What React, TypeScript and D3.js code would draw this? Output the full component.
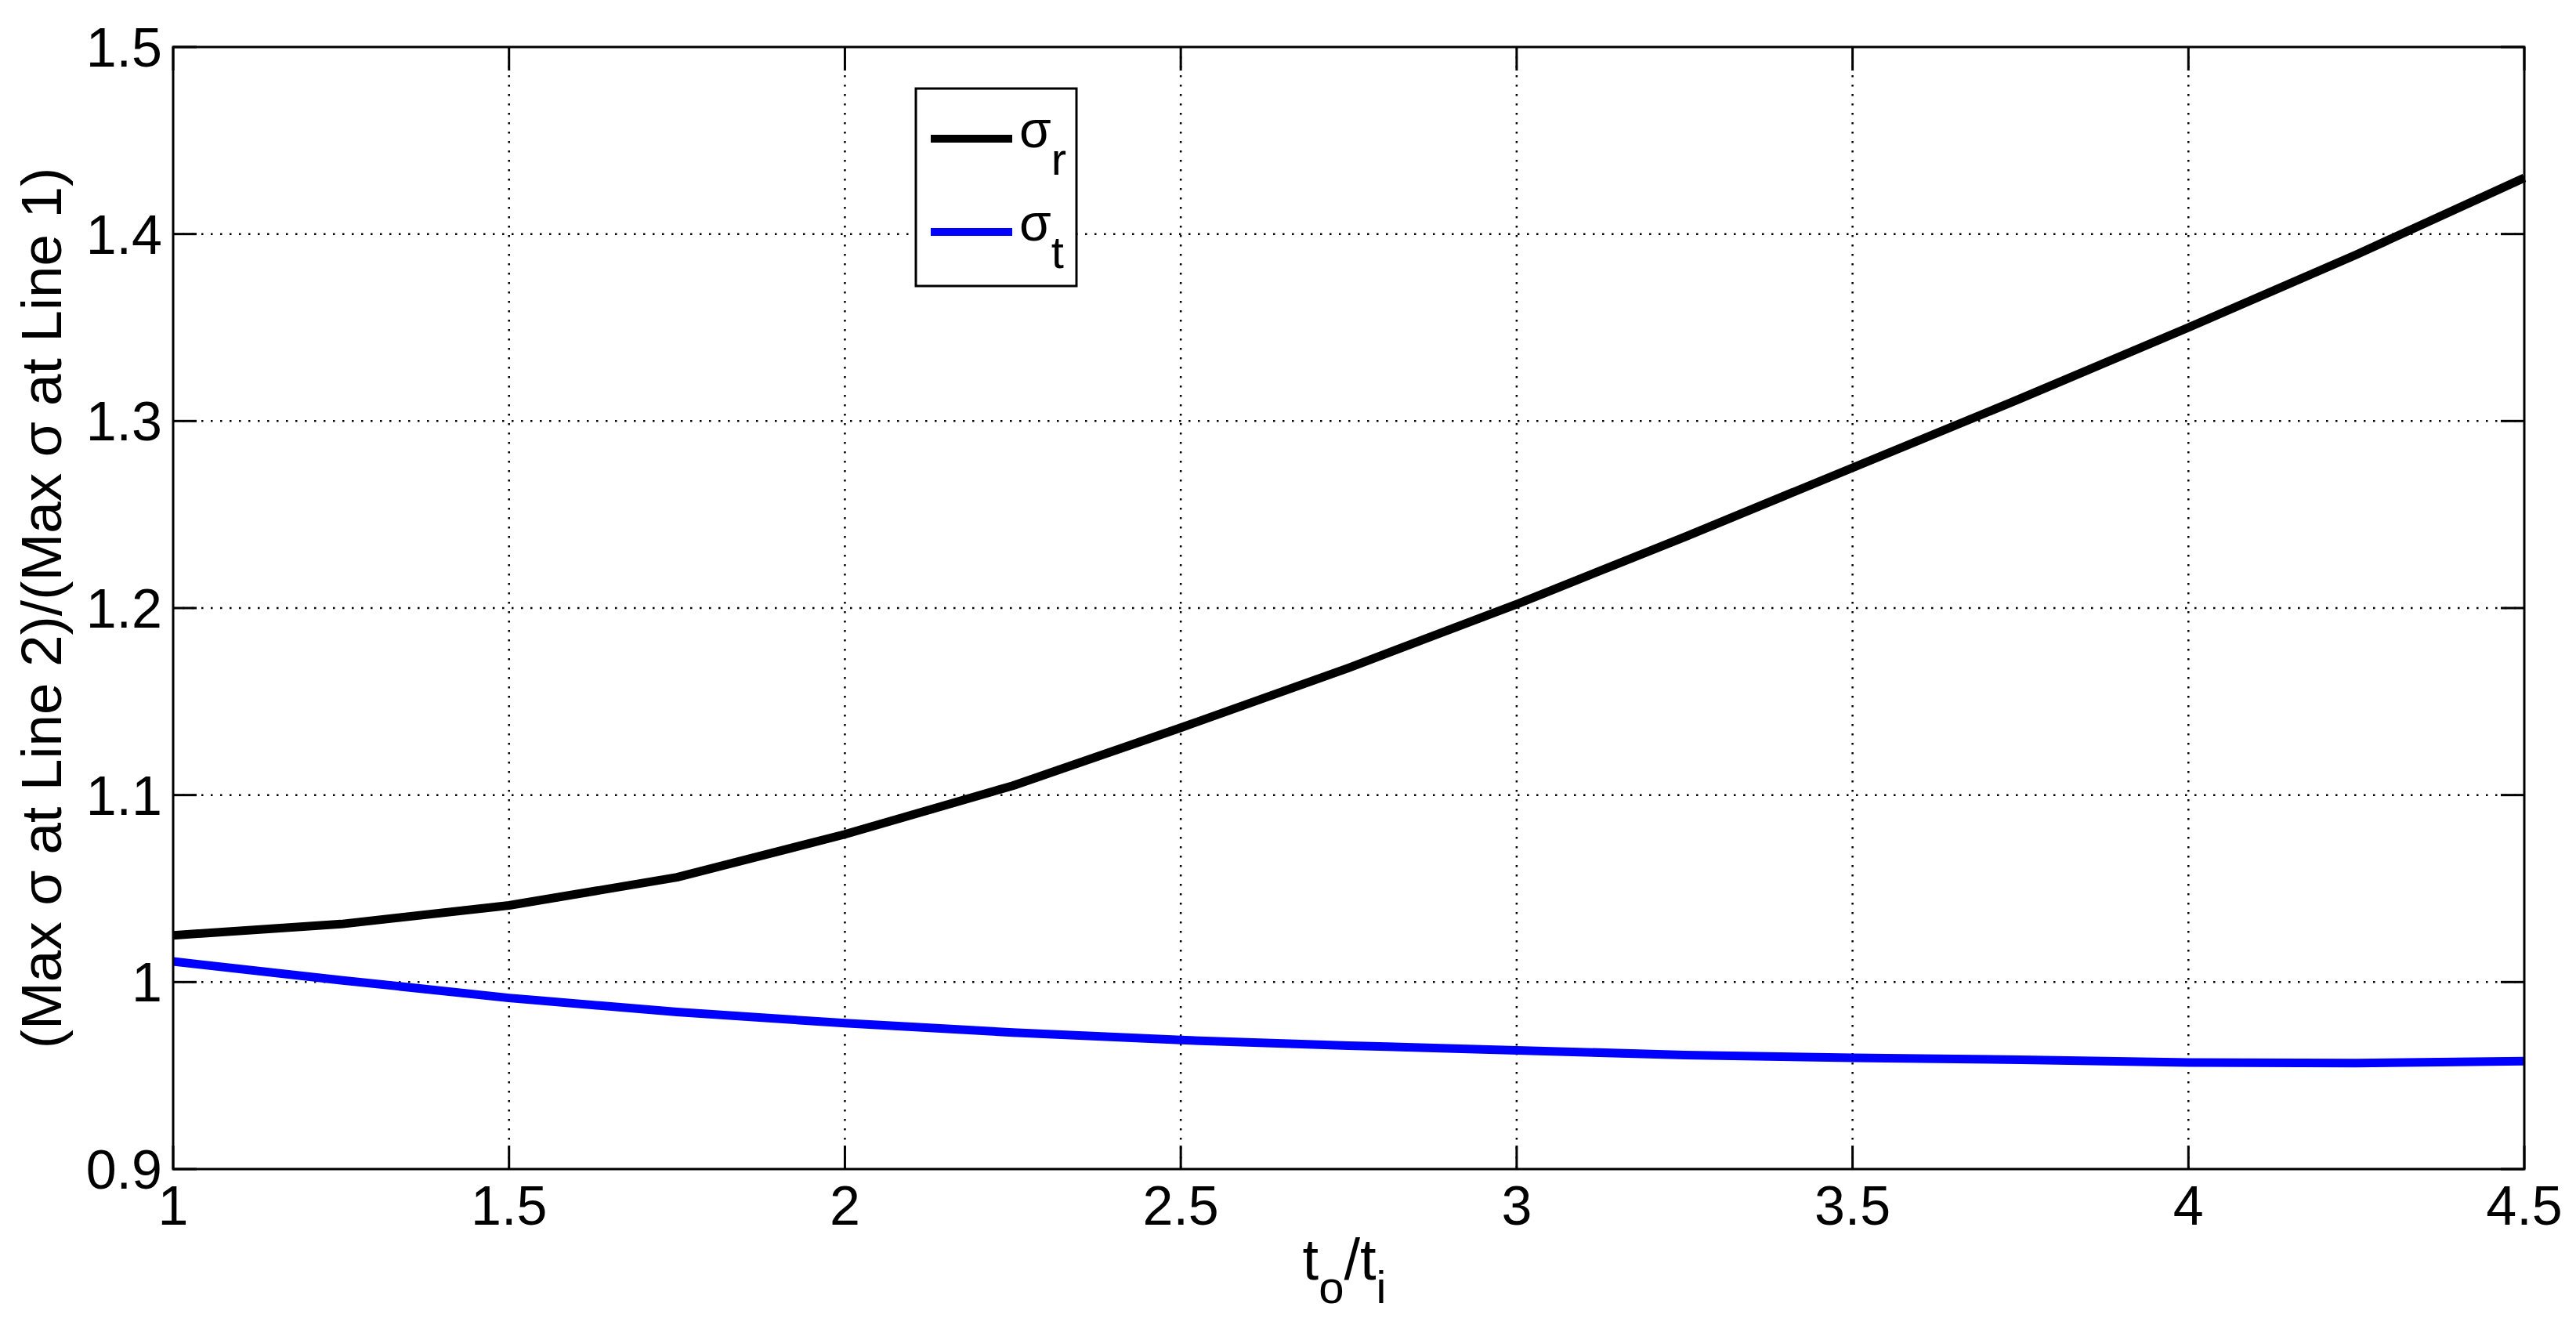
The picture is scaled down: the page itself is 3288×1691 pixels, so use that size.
import React from "react";
import * as d3 from "d3";

const X_VALUES = [1, 1.25, 1.5, 1.75, 2, 2.25, 2.5, 2.75, 3, 3.25, 3.5, 3.75, 4, 4.25, 4.5];
const SIGMA_R = [1.025, 1.031, 1.041, 1.056, 1.079, 1.105, 1.136, 1.168, 1.202, 1.238, 1.275, 1.312, 1.35, 1.389, 1.43];
const SIGMA_T = [1.011, 1.001, 0.9915, 0.984, 0.978, 0.973, 0.969, 0.966, 0.9635, 0.961, 0.9595, 0.9585, 0.957, 0.9567, 0.9577];
const X_TICKS = [1, 1.5, 2, 2.5, 3, 3.5, 4, 4.5];
const X_TICK_LABELS = ["1", "1.5", "2", "2.5", "3", "3.5", "4", "4.5"];
const Y_TICKS = [0.9, 1, 1.1, 1.2, 1.3, 1.4, 1.5];
const Y_TICK_LABELS = ["0.9", "1", "1.1", "1.2", "1.3", "1.4", "1.5"];

const W = 3288;
const H = 1691;
const L = 221, R = 3222, T = 60, B = 1492;
const FONT = "'Liberation Sans', Arial, Helvetica, sans-serif";

export default function App() {
  const x = d3.scaleLinear().domain([1, 4.5]).range([L, R]);
  const y = d3.scaleLinear().domain([0.9, 1.5]).range([B, T]);
  const line = d3
    .line<number>()
    .x((_, i) => x(X_VALUES[i]))
    .y((d) => y(d));
  const tickLen = 30;
  return (
    <svg width={W} height={H} style={{ position: "absolute", left: 0, top: 0, background: "#fff" }} fontFamily={FONT}>
      <rect x={0} y={0} width={W} height={H} fill="#fff" />
      {/* grid */}
      {X_TICKS.slice(1, -1).map((t) => (
        <line key={"gx" + t} x1={x(t)} x2={x(t)} y1={T} y2={B} stroke="#000" strokeWidth={2.5} strokeDasharray="2.5 9.5" />
      ))}
      {Y_TICKS.slice(1, -1).map((t) => (
        <line key={"gy" + t} x1={L} x2={R} y1={y(t)} y2={y(t)} stroke="#000" strokeWidth={2.5} strokeDasharray="2.5 9.5" />
      ))}
      {/* ticks */}
      {X_TICKS.map((t) => (
        <g key={"tx" + t}>
          <line x1={x(t)} x2={x(t)} y1={B} y2={B - tickLen} stroke="#000" strokeWidth={3} />
          <line x1={x(t)} x2={x(t)} y1={T} y2={T + tickLen} stroke="#000" strokeWidth={3} />
        </g>
      ))}
      {Y_TICKS.map((t) => (
        <g key={"ty" + t}>
          <line x1={L} x2={L + tickLen} y1={y(t)} y2={y(t)} stroke="#000" strokeWidth={3} />
          <line x1={R} x2={R - tickLen} y1={y(t)} y2={y(t)} stroke="#000" strokeWidth={3} />
        </g>
      ))}
      {/* curves */}
      <path d={line(SIGMA_R) || ""} fill="none" stroke="#000" strokeWidth={11} strokeLinejoin="round" />
      <path d={line(SIGMA_T) || ""} fill="none" stroke="#0000ff" strokeWidth={11} strokeLinejoin="round" />
      {/* box */}
      <rect x={L} y={T} width={R - L} height={B - T} fill="none" stroke="#000" strokeWidth={3} />
      {/* tick labels */}
      {X_TICKS.map((t, i) => (
        <text key={"lx" + t} x={x(t)} y={1563} fontSize={70} textAnchor="middle" fill="#000">
          {X_TICK_LABELS[i]}
        </text>
      ))}
      {Y_TICKS.map((t, i) => (
        <text key={"ly" + t} x={207} y={y(t) + 25} fontSize={70} textAnchor="end" fill="#000">
          {Y_TICK_LABELS[i]}
        </text>
      ))}
      {/* x label */}
      <text x={1716} y={1633} fontSize={74} textAnchor="middle" fill="#000">
        t<tspan dy={30} fontSize={58}>o</tspan>
        <tspan dy={-30}>/t</tspan>
        <tspan dy={30} fontSize={58}>i</tspan>
      </text>
      {/* y label */}
      <text transform="translate(78,776) rotate(-90)" fontSize={73} textAnchor="middle" fill="#000">
        (Max σ at Line 2)/(Max σ at Line 1)
      </text>
      {/* legend */}
      <rect x={1169} y={113} width={205} height={252} fill="#fff" stroke="#000" strokeWidth={3} />
      <line x1={1188} x2={1292} y1={177} y2={177} stroke="#000" strokeWidth={10} />
      <line x1={1188} x2={1292} y1={296} y2={296} stroke="#0000ff" strokeWidth={10} />
      <text x={1301} y={188} fontSize={66} fill="#000">
        σ<tspan dy={35} fontSize={58}>r</tspan>
      </text>
      <text x={1301} y={307} fontSize={66} fill="#000">
        σ<tspan dy={35} fontSize={58}>t</tspan>
      </text>
    </svg>
  );
}
